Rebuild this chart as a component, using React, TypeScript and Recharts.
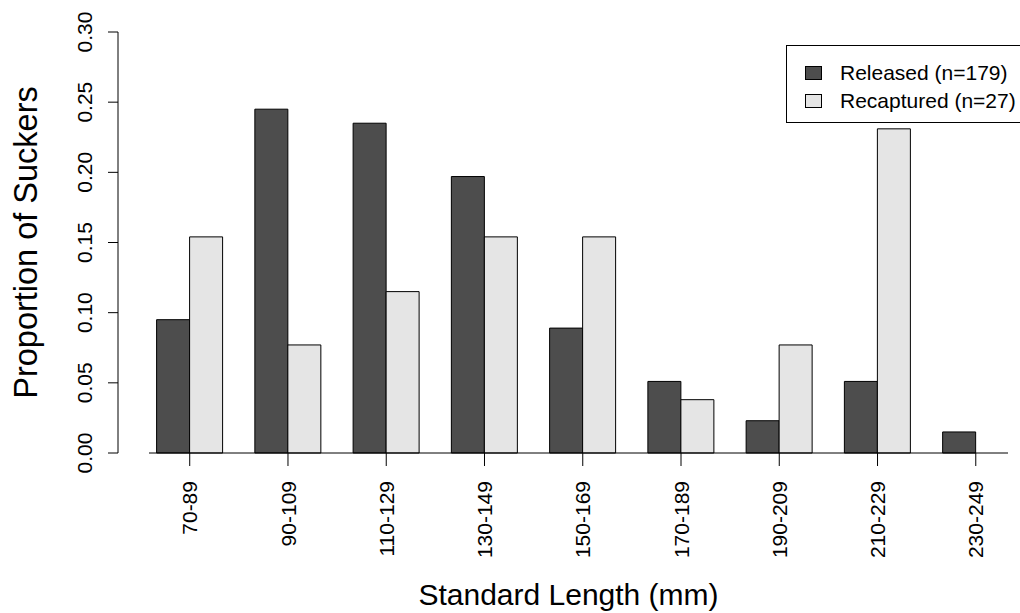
import { BarChart, Bar, XAxis, YAxis, Legend } from 'recharts';

const lengthClasses = [
  '70-89',
  '90-109',
  '110-129',
  '130-149',
  '150-169',
  '170-189',
  '190-209',
  '210-229',
  '230-249',
];
const released = [0.095, 0.245, 0.235, 0.197, 0.089, 0.051, 0.023, 0.051, 0.015];
const recaptured = [0.154, 0.077, 0.115, 0.154, 0.154, 0.038, 0.077, 0.231, 0];
const yTicks = [0, 0.05, 0.1, 0.15, 0.2, 0.25, 0.3];
const seriesOrder = ['released', 'recaptured'];

const data = lengthClasses.map((cls, i) => ({
  cls,
  released: released[i],
  recaptured: recaptured[i],
}));

const FONT = 'Arial, "Liberation Sans", sans-serif';

// R-style rotated labels (las = 2)
const renderXTick = ({ x, y, payload }: any) => (
  <text
    x={x}
    y={y}
    transform={`rotate(-90, ${x}, ${y})`}
    textAnchor="end"
    dy="0.36em"
    fontSize={21}
    fontFamily={FONT}
    fill="#000"
  >
    {payload.value}
  </text>
);

const renderYTick = ({ x, y, payload }: any) => (
  <text
    x={x}
    y={y}
    transform={`rotate(-90, ${x}, ${y})`}
    textAnchor="middle"
    fontSize={21}
    fontFamily={FONT}
    fill="#000"
  >
    {Number(payload.value).toFixed(2)}
  </text>
);

const renderXTitle = ({ viewBox }: any) => (
  <text
    x={viewBox.x + viewBox.width / 2 - 10}
    y={viewBox.y + viewBox.height + 2}
    textAnchor="middle"
    fontSize={30}
    fontFamily={FONT}
    fill="#000"
  >
    Standard Length (mm)
  </text>
);

const renderYTitle = ({ viewBox }: any) => {
  const x = viewBox.x + 18.5;
  const y = viewBox.y + viewBox.height / 2;
  return (
    <text
      x={x}
      y={y}
      transform={`rotate(-90, ${x}, ${y})`}
      textAnchor="middle"
      fontSize={32.5}
      fontFamily={FONT}
      fill="#000"
    >
      Proportion of Suckers
    </text>
  );
};

const renderLegend = ({ payload }: any) => {
  const items = [...(payload || [])].sort(
    (a: any, b: any) => seriesOrder.indexOf(a.dataKey) - seriesOrder.indexOf(b.dataKey)
  );
  return (
    <div
      style={{
        position: 'relative',
        width: 260,
        height: 78,
        border: '1px solid #000',
        boxSizing: 'border-box',
        background: '#fff',
        fontFamily: FONT,
        fontSize: 21,
        color: '#000',
      }}
    >
      {items.map((entry: any, i: number) => (
        <div
          key={entry.value}
          style={{
            position: 'absolute',
            left: 18,
            top: 16 + i * 28,
            height: 22,
            display: 'flex',
            alignItems: 'center',
            whiteSpace: 'nowrap',
          }}
        >
          <span
            style={{
              display: 'inline-block',
              width: 17,
              height: 14,
              background: entry.payload?.fill || entry.color,
              border: '1px solid #000',
              boxSizing: 'border-box',
            }}
          />
          <span style={{ marginLeft: 18, lineHeight: '22px' }}>{entry.value}</span>
        </div>
      ))}
    </div>
  );
};

export default function App() {
  return (
    <div
      style={{
        position: 'fixed',
        left: 0,
        top: 0,
        width: 1020,
        height: 613,
        overflow: 'hidden',
        background: '#fff',
      }}
    >
      <div style={{ position: 'absolute', left: 8, top: 8 }}>
        <BarChart
          width={1012}
          height={605}
          data={data}
          margin={{ top: 24, right: 12, bottom: 10, left: 10 }}
          barGap={0}
          barSize={33}
        >
          <XAxis
            dataKey="cls"
            interval={0}
            height={150}
            padding={{ left: -8.4, right: -16.9 }}
            axisLine={{ stroke: '#000' }}
            tickLine={{ stroke: '#000' }}
            tickSize={13}
            tickMargin={15}
            tick={renderXTick}
            label={{ content: renderXTitle }}
          />
          <YAxis
            yAxisId="gap"
            width={31}
            domain={[0, 0.3]}
            tick={false}
            axisLine={false}
            tickLine={false}
          />
          <YAxis
            yAxisId="main"
            width={100}
            domain={[0, 0.3]}
            ticks={yTicks}
            interval={0}
            axisLine={{ stroke: '#000' }}
            tickLine={{ stroke: '#000' }}
            tickSize={10}
            tickMargin={16}
            tick={renderYTick}
            label={{ content: renderYTitle }}
          />
          <Legend
            layout="horizontal"
            align="center"
            verticalAlign="middle"
            wrapperStyle={{ position: 'absolute', left: 778, top: 37, width: 260, height: 78, margin: 0 }}
            content={renderLegend}
          />
          <Bar
            yAxisId="main"
            dataKey="released"
            name="Released (n=179)"
            fill="#4d4d4d"
            stroke="#000"
            strokeWidth={1}
            isAnimationActive={false}
          />
          <Bar
            yAxisId="main"
            dataKey="recaptured"
            name="Recaptured (n=27)"
            fill="#e5e5e5"
            stroke="#000"
            strokeWidth={1}
            isAnimationActive={false}
          />
        </BarChart>
      </div>
    </div>
  );
}
